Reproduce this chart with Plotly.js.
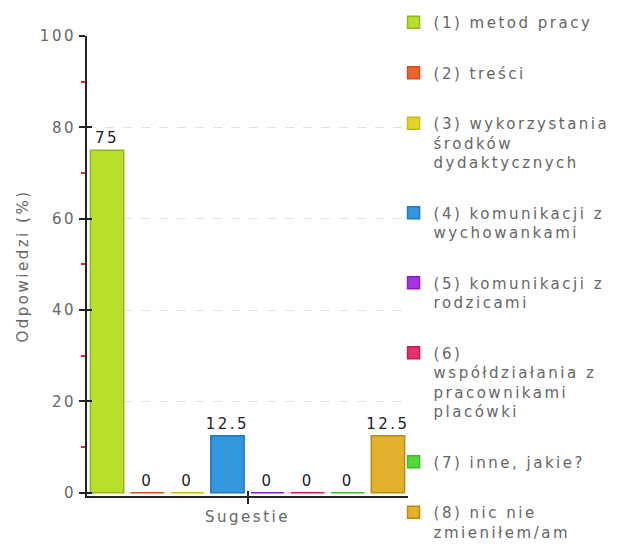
<!DOCTYPE html>
<html>
<head>
<meta charset="utf-8">
<script src="https://cdn.plot.ly/plotly-3.0.1.min.js"></script>
<style>
html,body{margin:0;padding:0;background:#fff;}
#chart{width:624px;height:547px;}
svg text{letter-spacing:2.5px;}
</style>
</head>
<body>
<div id="chart"></div>
<script>
const category = ["Sugestie"];
const seriesNames = [
  "(1) metod pracy",
  "(2) treści",
  "(3) wykorzystania<br>środków<br>dydaktycznych",
  "(4) komunikacji z<br>wychowankami",
  "(5) komunikacji z<br>rodzicami",
  "(6)<br>współdziałania z<br>pracownikami<br>placówki",
  "(7) inne, jakie?",
  "(8) nic nie<br>zmieniłem/am"
];
const seriesValues = [75, 0, 0, 12.5, 0, 0, 0, 12.5];
const yTickVals = [0, 20, 40, 60, 80, 100];
const yMinorVals = [10, 30, 50, 70, 90];
const fillColors = ["#b9de2c", "#e8662e", "#e3d42a", "#3497de", "#a833e4", "#e4326f", "#55d93a", "#e2b130"];
const lineColors = ["#93b51a", "#d0501c", "#c9b816", "#2078c0", "#8a1ec8", "#c41c55", "#3cb824", "#b98a12"];

const traces = seriesNames.map((name, i) => ({
  type: "bar",
  name: name,
  x: category,
  y: [seriesValues[i]],
  legendgroup: "g" + i,
  marker: {color: fillColors[i], line: {color: lineColors[i], width: 1.5}},
  text: [String(seriesValues[i])],
  textposition: "outside",
  constraintext: "none",
  textfont: {family: "DejaVu Sans", size: 15, color: "#222"},
  cliponaxis: false,
  hoverinfo: "none"
}));

// empty helper trace so the overlay axes (inner half of the crossing ticks) are drawn
traces.push({type: "scatter", x: [], y: [], xaxis: "x2", yaxis: "y2", showlegend: false, hoverinfo: "none"});

const yRange = [-0.7, 100];

const layout = {
  width: 624, height: 547,
  margin: {l: 87, r: 216, t: 36, b: 51, autoexpand: false},
  paper_bgcolor: "#fff", plot_bgcolor: "#fff",
  barmode: "group",
  bargap: 0.0,
  bargroupgap: 0.17,
  font: {family: "DejaVu Sans", color: "#666"},
  showlegend: true,
  legend: {
    x: 0.955, xanchor: "left", y: 1.065, yanchor: "top",
    font: {family: "DejaVu Sans", size: 15, color: "#666"},
    tracegroupgap: 28,
    itemwidth: 30,
    valign: "top",
    maxheight: 547,
    bgcolor: "rgba(0,0,0,0)"
  },
  xaxis: {
    type: "category",
    showline: true, linecolor: "#222", linewidth: 2,
    ticks: "outside", ticklen: 6, tickcolor: "#222", tickwidth: 2,
    tickfont: {family: "DejaVu Sans", size: 15, color: "#666"},
    showgrid: false, zeroline: false
  },
  xaxis2: {
    overlaying: "x", range: [-0.5, 0.5], tickvals: [0],
    ticks: "inside", ticklen: 5, tickcolor: "#222", tickwidth: 2,
    showticklabels: false, showgrid: false, showline: false, zeroline: false
  },
  yaxis: {
    range: yRange,
    tickvals: yTickVals,
    showline: true, linecolor: "#222", linewidth: 2,
    ticks: "outside", ticklen: 6, tickcolor: "#222", tickwidth: 2,
    tickfont: {family: "DejaVu Sans", size: 15, color: "#666"},
    showgrid: true, gridcolor: "#e2e2e2", griddash: "dash", gridwidth: 1,
    zeroline: false,
    minor: {tickvals: yMinorVals, ticks: "outside", ticklen: 4, tickcolor: "#ff1a1a", tickwidth: 2, showgrid: false},
    title: {text: "Odpowiedzi (%)", font: {family: "DejaVu Sans", size: 15, color: "#666"}, standoff: 8}
  },
  yaxis2: {
    overlaying: "y", range: yRange, tickvals: yTickVals,
    ticks: "inside", ticklen: 5, tickcolor: "#222", tickwidth: 2,
    showticklabels: false, showgrid: false, showline: false, zeroline: false
  }
};

Plotly.newPlot("chart", traces, layout, {displayModeBar: false, staticPlot: true});
</script>
</body>
</html>
